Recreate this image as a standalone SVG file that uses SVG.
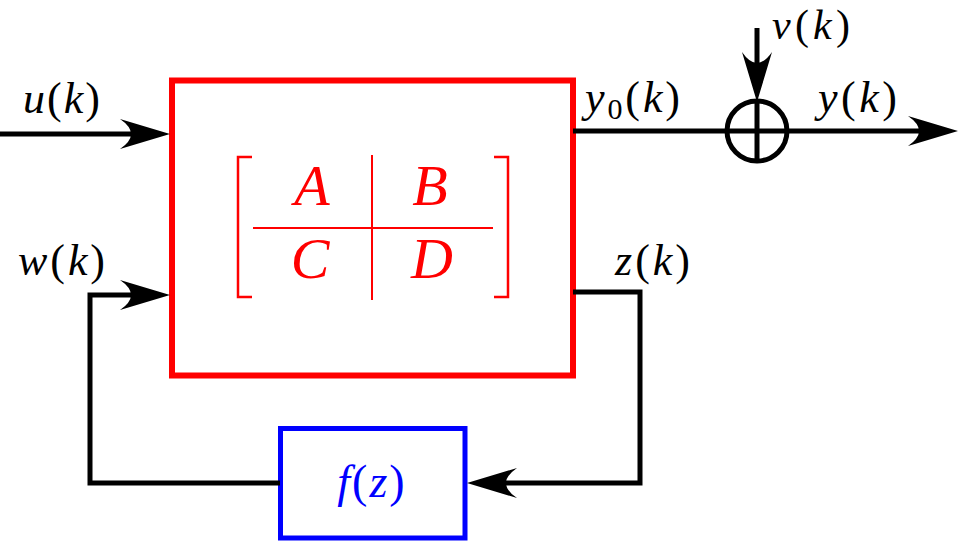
<svg xmlns="http://www.w3.org/2000/svg" width="959" height="542" viewBox="0 0 959 542">
<style>
.wire{fill:none;stroke:#000;stroke-width:5;stroke-linejoin:miter;stroke-linecap:butt}
.arr{marker-end:url(#ah)}
.lbl{font-family:'Liberation Serif','Times New Roman',Tinos,'Noto Serif','DejaVu Serif',serif;font-size:44px;fill:#000}
.it{font-style:italic}
.mat{font-family:'Liberation Serif','Times New Roman',Tinos,'Noto Serif','DejaVu Serif',serif;font-size:58px;font-style:italic;fill:#ff0000;text-anchor:middle}
.red{fill:none;stroke:#ff0000}
</style>
<defs>
<marker id="ah" markerUnits="userSpaceOnUse" viewBox="-52 -17 54 34" markerWidth="54" markerHeight="34" refX="-30" refY="0" orient="auto" overflow="visible">
<path d="M0,0 L-50,-15 Q-28,0 -50,15 Z" fill="#000"/>
</marker>
</defs>
<rect width="959" height="542" fill="#fff"/>
<g id="system">
<rect x="172" y="80.5" width="401" height="295" fill="none" stroke="#ff0000" stroke-width="6"/>
<path class="red" stroke-width="2.5" d="M252,157 H238 V297 H252"/>
<path class="red" stroke-width="2.5" d="M494,157 H508 V297 H494"/>
<path class="red" stroke-width="2" d="M253,228 H493 M372,155 V300"/>
<text class="mat" x="312" y="205">A</text>
<text class="mat" x="430" y="205">B</text>
<text class="mat" x="310" y="278">C</text>
<text class="mat" x="432" y="278">D</text>
</g>
<g id="sum">
<circle cx="757" cy="131" r="30" fill="none" stroke="#000" stroke-width="5"/>
<path class="wire" d="M757,101 V161"/>
</g>
<g id="nonlinearity">
<rect x="280.5" y="428.5" width="184.5" height="109.5" fill="none" stroke="#0000ff" stroke-width="5"/>
<text class="lbl" x="372" y="497" text-anchor="middle" letter-spacing="2" style="fill:#0000ff;font-size:46px"><tspan class="it">f</tspan>(<tspan class="it">z</tspan>)</text>
</g>
<g id="connectors">
<path class="wire arr" d="M0,134 H140"/>
<path class="wire arr" d="M573,131 H928"/>
<path class="wire arr" d="M757,28 V72"/>
<path class="wire arr" d="M573,292 H640 V483 H497"/>
<path class="wire arr" d="M280,483 H90 V295 H140"/>
</g>
<g id="labels">
<text class="lbl" x="23" y="113" textLength="77" lengthAdjust="spacing"><tspan class="it">u</tspan>(<tspan class="it">k</tspan>)</text>
<text class="lbl" x="585" y="112" textLength="95" lengthAdjust="spacing"><tspan class="it">y</tspan><tspan font-size="30" dy="7">0</tspan><tspan dy="-7">(</tspan><tspan class="it">k</tspan>)</text>
<text class="lbl" x="772" y="39" textLength="78" lengthAdjust="spacing" style="font-size:42px"><tspan class="it">v</tspan>(<tspan class="it">k</tspan>)</text>
<text class="lbl" x="818" y="112" textLength="79" lengthAdjust="spacing"><tspan class="it">y</tspan>(<tspan class="it">k</tspan>)</text>
<text class="lbl" x="18" y="275" textLength="87" lengthAdjust="spacing"><tspan class="it">w</tspan>(<tspan class="it">k</tspan>)</text>
<text class="lbl" x="615" y="275" textLength="75" lengthAdjust="spacing"><tspan class="it">z</tspan>(<tspan class="it">k</tspan>)</text>
</g>
</svg>
